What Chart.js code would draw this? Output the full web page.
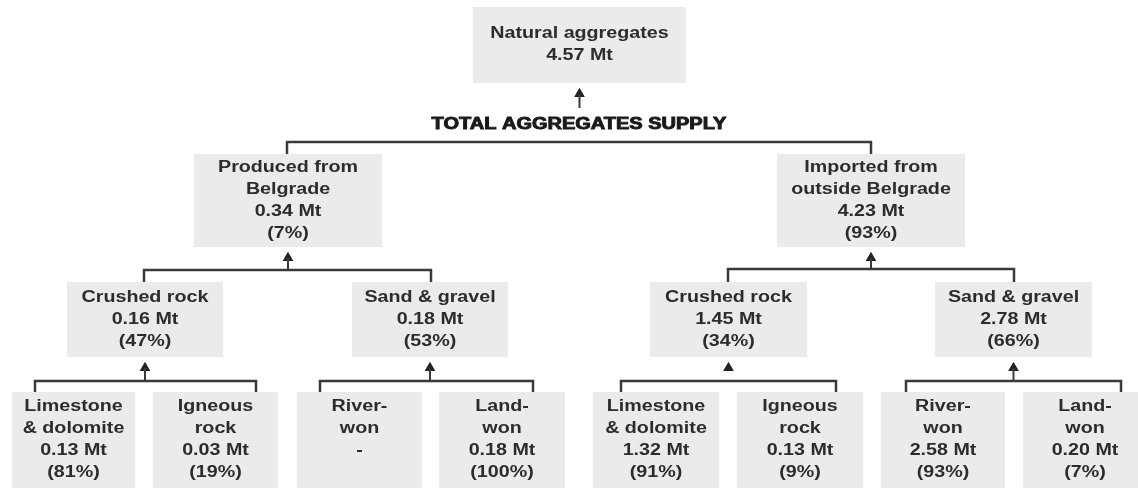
<!DOCTYPE html>
<html>
<head>
<meta charset="utf-8">
<script src="https://cdn.jsdelivr.net/npm/chart.js"></script>
<style>
  html, body { margin: 0; padding: 0; background: #fff; }
  #wrap { width: 1138px; height: 489px; position: relative; }
</style>
</head>
<body>
<div id="wrap"><canvas id="treeChart"></canvas></div>
<script>
/**
 * Aggregates supply tree - Belgrade
 */

// Node data (tree order: root, level 1, level 2, leaves)
const nodeNames = [
  ['Natural aggregates'],
  ['Produced from', 'Belgrade'],
  ['Imported from', 'outside Belgrade'],
  ['Crushed rock'], ['Sand & gravel'],
  ['Crushed rock'], ['Sand & gravel'],
  ['Limestone', '& dolomite'], ['Igneous', 'rock'],
  ['River-', 'won'], ['Land-', 'won'],
  ['Limestone', '& dolomite'], ['Igneous', 'rock'],
  ['River-', 'won'], ['Land-', 'won']
];
const nodeTonnes = [4.57, 0.34, 4.23, 0.16, 0.18, 1.45, 2.78, 0.13, 0.03, null, 0.18, 1.32, 0.13, 2.58, 0.20];
const nodeShares = [null, 7, 93, 47, 53, 34, 66, 81, 19, null, 100, 91, 9, 93, 7];
const parentOf = [null, 0, 0, 1, 1, 2, 2, 3, 3, 4, 4, 5, 5, 6, 6];
const supplyLabel = 'TOTAL AGGREGATES SUPPLY';

// Layout (diagram units): box [left, top, right, bottom]
const boxLayout = [
  [473, 7, 686, 83],
  [194, 154, 382, 247], [777, 154, 965, 247],
  [67, 282, 223, 357], [352, 282, 508, 357],
  [650, 282, 807, 357], [935, 282, 1092, 357],
  [12, 392, 135, 488], [153, 392, 278, 488],
  [297, 392, 422, 488], [439, 392, 565, 488],
  [593, 392, 719, 488], [737, 392, 863, 488],
  [881, 392, 1005, 488], [1023, 392, 1147, 488]
];
// where each child's connector drops into its box
const dropX = [null, 287, 871, 144, 431, 728, 1014, 35, 256, 320, 533, 621, 836, 906, 1121];
// height of the bracket bar under each parent
const barY = [142, 270, 269, 381, 381, 381, 381];
const arrowStem = [true, true, true, true, true, false, true];

const LINE_COLOR = '#3a3a3a';
const BOX_COLOR = '#ebebeb';
const TEXT_COLOR = '#2c2c2c';
const FONT = 'bold 16px "Liberation Sans", Arial, sans-serif';
const STRETCH = 1.23;
const LINE_H = 22;

function centerOf(i) {
  const b = boxLayout[i];
  return (b[0] + b[2]) / 2;
}

// Build connector datasets from the tree
function buildDatasets() {
  const sets = [];
  const arrowPts = [];
  barY.forEach((y, p) => {
    const kids = parentOf.map((pp, i) => pp === p ? i : -1).filter(i => i >= 0);
    if (!kids.length) return;
    const a = kids[0], b = kids[kids.length - 1];
    sets.push({
      type: 'line',
      data: [
        { x: dropX[a], y: boxLayout[a][1] },
        { x: dropX[a], y: y },
        { x: dropX[b], y: y },
        { x: dropX[b], y: boxLayout[b][1] }
      ],
      borderColor: LINE_COLOR,
      borderWidth: 2.5,
      pointRadius: 0,
      fill: false
    });
    const ax = centerOf(p);
    const tip = boxLayout[p][3] + 5;
    if (arrowStem[p]) {
      const from = p === 0 ? 108 : y;
      sets.push({
        type: 'line',
        data: [{ x: ax, y: from }, { x: ax, y: tip + 6 }],
        borderColor: LINE_COLOR,
        borderWidth: 2,
        pointRadius: 0,
        fill: false
      });
    }
    arrowPts.push({ x: ax, y: tip + 6 });
  });
  sets.push({
    type: 'scatter',
    data: arrowPts,
    pointStyle: 'triangle',
    pointRadius: 6.2,
    backgroundColor: '#222',
    borderColor: '#222',
    borderWidth: 0
  });
  return sets;
}

function stretchText(ctx, text, x, y, sx) {
  ctx.save();
  ctx.translate(x, y);
  ctx.scale(sx, 1);
  ctx.fillText(text, 0, 0);
  ctx.restore();
}

const treePlugin = {
  id: 'treeBoxes',
  beforeDatasetsDraw(chart) {
    const { ctx, scales: { x, y } } = chart;
    ctx.save();
    ctx.fillStyle = BOX_COLOR;
    boxLayout.forEach(b => {
      const l = x.getPixelForValue(b[0]), r = x.getPixelForValue(b[2]);
      const t = y.getPixelForValue(b[1]), btm = y.getPixelForValue(b[3]);
      ctx.fillRect(l, t, r - l, btm - t);
    });
    ctx.restore();
  },
  afterDatasetsDraw(chart) {
    const { ctx, scales: { x, y } } = chart;
    ctx.save();
    ctx.font = FONT;
    ctx.fillStyle = TEXT_COLOR;
    ctx.textAlign = 'center';
    ctx.textBaseline = 'middle';

    nodeNames.forEach((names, i) => {
      const lines = names.slice();
      lines.push(nodeTonnes[i] != null ? `${nodeTonnes[i].toFixed(2)} Mt` : '-');
      if (parentOf[i] !== null) {
        lines.push(nodeShares[i] != null ? `(${nodeShares[i]}%)` : '');
      }
      const b = boxLayout[i];
      const cx = x.getPixelForValue(centerOf(i));
      const cy = y.getPixelForValue((b[1] + b[3]) / 2);
      const top = cy - (lines.length - 1) * LINE_H / 2;
      lines.forEach((t, k) => stretchText(ctx, t, cx, top + k * LINE_H, STRETCH));
    });

    // label between root arrow and first bracket
    ctx.fillStyle = '#1a1a1a';
    ctx.strokeStyle = '#1a1a1a';
    ctx.lineWidth = 0.9;
    const lx = x.getPixelForValue(579), ly = y.getPixelForValue(125);
    ctx.save();
    ctx.translate(lx, ly);
    ctx.scale(1.25, 1);
    ctx.fillText(supplyLabel, 0, 0);
    ctx.strokeText(supplyLabel, 0, 0);
    ctx.restore();
    ctx.restore();
  }
};

function renderTree() {
  const ctx = document.getElementById('treeChart');
  new Chart(ctx, {
    type: 'scatter',
    data: { datasets: buildDatasets() },
    options: {
      responsive: true,
      maintainAspectRatio: false,
      animation: false,
      layout: { padding: 0, autoPadding: false },
      plugins: {
        legend: { display: false },
        tooltip: { enabled: false }
      },
      scales: {
        x: { type: 'linear', min: 0, max: 1138, display: false },
        y: { type: 'linear', min: 0, max: 489, reverse: true, display: false }
      }
    },
    plugins: [treePlugin]
  });
}

renderTree();
</script>
</body>
</html>
